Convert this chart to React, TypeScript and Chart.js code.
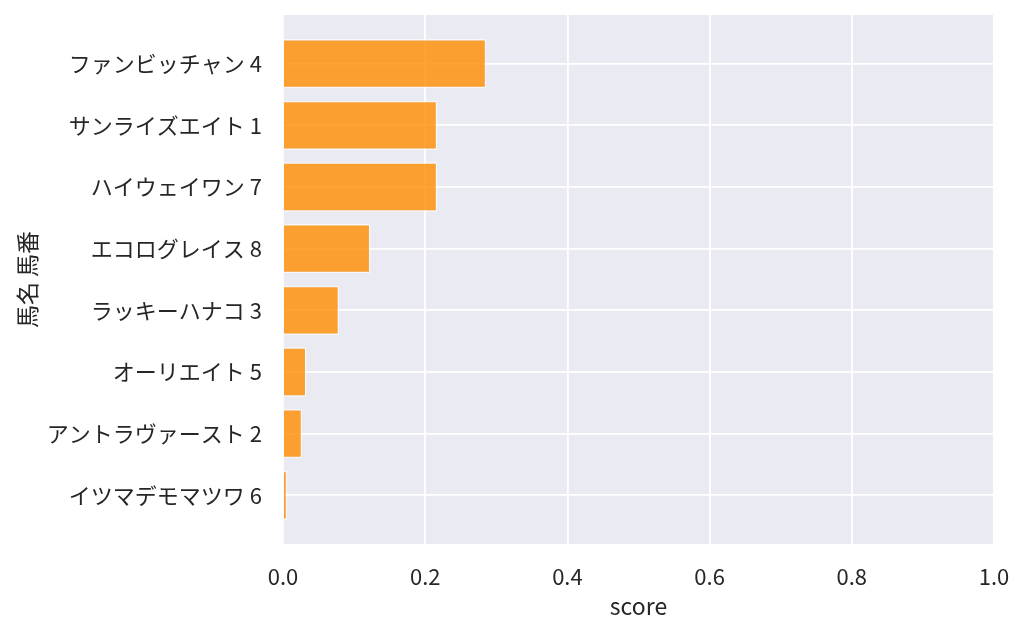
import React, { useEffect, useRef } from 'react';
import Chart from 'chart.js/auto';

const horses = [
  'ファンビッチャン 4',
  'サンライズエイト 1',
  'ハイウェイワン 7',
  'エコログレイス 8',
  'ラッキーハナコ 3',
  'オーリエイト 5',
  'アントラヴァースト 2',
  'イツマデモマツワ 6',
];
const scores = [0.286, 0.217, 0.217, 0.123, 0.079, 0.033, 0.027, 0.006];
const xTicks = [0, 0.2, 0.4, 0.6, 0.8, 1.0];

const FONT = '"Noto Sans CJK JP", "Noto Sans", sans-serif';
const TEXT = '#262626';

// seaborn-like plot background
const plotBg = {
  id: 'plotBg',
  beforeDraw(chart: any) {
    const { ctx, chartArea } = chart;
    ctx.save();
    ctx.fillStyle = '#eaeaf2';
    ctx.fillRect(chartArea.left, chartArea.top, chartArea.right - chartArea.left, chartArea.bottom - chartArea.top);
    ctx.restore();
  },
};

const App: React.FC = () => {
  const canvasRef = useRef<HTMLCanvasElement>(null);
  const chartRef = useRef<Chart | null>(null);

  useEffect(() => {
    document.body.style.margin = '0';
    if (!canvasRef.current) return;
    if (chartRef.current) chartRef.current.destroy();
    const ctx = canvasRef.current.getContext('2d');
    if (!ctx) return;

    chartRef.current = new Chart(ctx, {
      type: 'bar',
      data: {
        datasets: [
          {
            data: horses.map((_, i) => ({ x: scores[i], y: i })),
            backgroundColor: 'rgba(255, 140, 0, 0.8)',
            borderColor: 'rgba(255, 255, 255, 0.6)',
            borderWidth: 1.5,
            categoryPercentage: 1,
            barPercentage: 0.8,
          },
        ],
      },
      plugins: [plotBg],
      options: {
        indexAxis: 'y',
        animation: false,
        responsive: false,
        devicePixelRatio: 1,
        layout: { padding: { top: 15, right: 30, left: 0, bottom: 0 } },
        plugins: {
          legend: { display: false },
          tooltip: { enabled: false },
        },
        scales: {
          x: {
            type: 'linear',
            min: 0,
            max: 1,
            afterBuildTicks: (scale: any) => {
              scale.ticks = xTicks.map((v) => ({ value: v }));
            },
            afterFit: (scale: any) => {
              scale.height = 90;
              scale.paddingLeft = 0;
              scale.paddingRight = 0;
            },
            grid: { color: '#ffffff', lineWidth: 1.8, drawTicks: false },
            border: { display: false },
            ticks: {
              padding: 19,
              color: TEXT,
              font: { family: FONT, size: 22 },
              callback: (v: any) => Number(v).toFixed(1),
            },
            title: {
              display: true,
              text: 'score',
              color: TEXT,
              font: { family: FONT, size: 23 },
              padding: { top: 0, bottom: 14 },
            },
          },
          y: {
            type: 'linear',
            min: -0.79,
            max: 7.79,
            reverse: true,
            offset: false,
            afterBuildTicks: (scale: any) => {
              scale.ticks = horses.map((_, i) => ({ value: i }));
            },
            afterFit: (scale: any) => {
              scale.width = 283;
              scale.paddingTop = 0;
              scale.paddingBottom = 0;
            },
            grid: { color: '#ffffff', lineWidth: 1.8, drawTicks: false, offset: false },
            border: { display: false },
            ticks: {
              padding: 21,
              color: TEXT,
              font: { family: FONT, size: 22 },
              callback: (v: any) => horses[Number(v)] ?? '',
            },
            title: {
              display: true,
              text: '馬名 馬番',
              color: TEXT,
              font: { family: FONT, size: 23 },
              padding: { top: 13, bottom: 0 },
            },
          },
        },
      },
    });

    return () => {
      if (chartRef.current) {
        chartRef.current.destroy();
        chartRef.current = null;
      }
    };
  }, []);

  return (
    <div style={{ width: 1024, height: 634 }}>
      <canvas ref={canvasRef} width={1024} height={634} />
    </div>
  );
};

export default App;
